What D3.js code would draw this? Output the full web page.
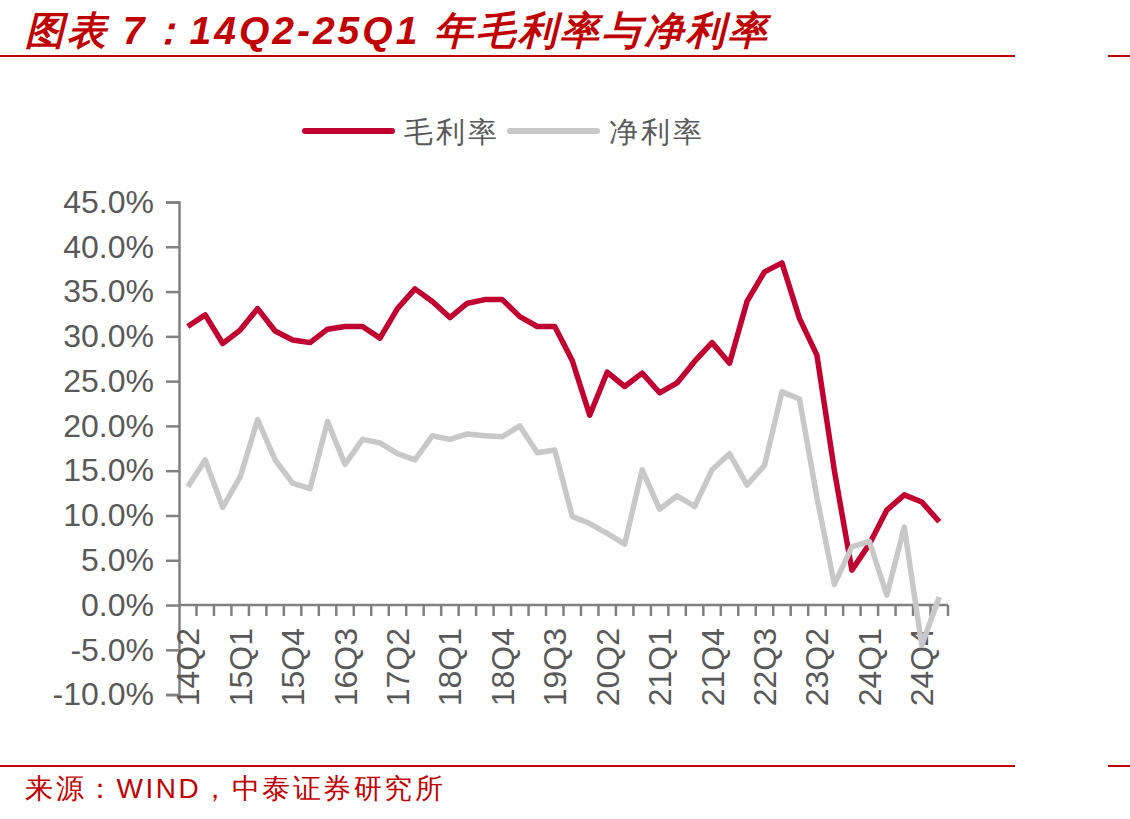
<!DOCTYPE html>
<html>
<head>
<meta charset="utf-8">
<script src="https://cdn.jsdelivr.net/npm/d3@7"></script>
<style>
  body { margin: 0; background: #fff; }
  svg { display: block; }
  text { font-family: "Liberation Sans", Arial, sans-serif; }
</style>
</head>
<body>
<svg id="chart"></svg>
<script>
const width = 1130;
const height = 819;

const quarters = [
  "14Q2","14Q3","14Q4","15Q1","15Q2","15Q3","15Q4","16Q1","16Q2","16Q3","16Q4",
  "17Q1","17Q2","17Q3","17Q4","18Q1","18Q2","18Q3","18Q4","19Q1","19Q2","19Q3",
  "19Q4","20Q1","20Q2","20Q3","20Q4","21Q1","21Q2","21Q3","21Q4","22Q1","22Q2",
  "22Q3","22Q4","23Q1","23Q2","23Q3","23Q4","24Q1","24Q2","24Q3","24Q4","25Q1"
];
const tickLabels = ["14Q2","15Q1","15Q4","16Q3","17Q2","18Q1","18Q4","19Q3",
  "20Q2","21Q1","21Q4","22Q3","23Q2","24Q1","24Q4"];
const yTicks = [-10, -5, 0, 5, 10, 15, 20, 25, 30, 35, 40, 45];

// 毛利率 (%)
const grossMargin = [
  31.1, 32.4, 29.2, 30.7, 33.1, 30.6, 29.6, 29.3, 30.8, 31.1, 31.1,
  29.8, 33.1, 35.3, 33.9, 32.1, 33.7, 34.1, 34.1, 32.2, 31.1, 31.1,
  27.3, 21.2, 26.0, 24.4, 25.9, 23.7, 24.8, 27.2, 29.3, 27.0, 33.9,
  37.2, 38.2, 32.0, 27.9, 15.0, 3.9, 6.8, 10.6, 12.3, 11.5, 9.3
];
// 净利率 (%)
const netMargin = [
  13.2, 16.2, 10.9, 14.3, 20.7, 16.2, 13.6, 13.0, 20.5, 15.7, 18.5,
  18.1, 16.9, 16.2, 18.9, 18.5, 19.1, 18.9, 18.8, 20.0, 17.0, 17.3,
  9.9, 9.1, 8.0, 6.8, 15.1, 10.7, 12.2, 11.0, 15.1, 16.9, 13.4,
  15.6, 23.8, 23.0, 12.0, 2.3, 6.5, 7.1, 1.1, 8.7, -4.5, 0.9
];

const red = "#C00031";
const grey = "#C8C8C8";
const axisColor = "#808080";
const textColor = "#595959";
const titleRed = "#C00000";

const svg = d3.select("#chart")
  .attr("width", width)
  .attr("height", height);

// title and rules
svg.append("text")
  .attr("x", 25).attr("y", 44)
  .attr("fill", titleRed)
  .attr("font-size", 39)
  .attr("font-weight", "bold")
  .attr("font-style", "italic")
  .attr("letter-spacing", 3)
  .attr("font-family", "'Noto Sans CJK SC', 'Liberation Sans', sans-serif")
  .text("图表 7：14Q2-25Q1 年毛利率与净利率");

[56, 766].forEach(y => {
  svg.append("line").attr("x1", 0).attr("x2", 1015).attr("y1", y).attr("y2", y)
    .attr("stroke", titleRed).attr("stroke-width", 2);
  svg.append("line").attr("x1", 1108).attr("x2", 1130).attr("y1", y).attr("y2", y)
    .attr("stroke", titleRed).attr("stroke-width", 2);
});

svg.append("text")
  .attr("x", 25).attr("y", 798)
  .attr("fill", titleRed)
  .attr("font-size", 28)
  .attr("letter-spacing", 2.5)
  .attr("font-family", "'Noto Sans CJK SC', sans-serif")
  .text("来源：WIND，中泰证券研究所");

// scales
const x = d3.scaleBand().domain(quarters).range([179, 948]).padding(0);
const y = d3.scaleLinear().domain([-10, 45]).range([694.6, 202]);

// y axis
const yAxis = svg.append("g")
  .attr("transform", "translate(179,0)")
  .call(d3.axisLeft(y).tickValues(yTicks).tickSize(13).tickPadding(12)
    .tickFormat(d => d.toFixed(1) + "%"));
yAxis.select(".domain").attr("stroke", axisColor).attr("stroke-width", 2.5);
yAxis.selectAll(".tick line").attr("stroke", axisColor).attr("stroke-width", 2.5);
yAxis.selectAll(".tick text")
  .attr("fill", textColor)
  .attr("font-size", 32)
  .attr("font-family", "'Liberation Sans', Arial, sans-serif");

// x axis at 0%
const xAxis = svg.append("g").attr("transform", `translate(0,${y(0)})`);
xAxis.append("line")
  .attr("x1", 179).attr("x2", 948)
  .attr("stroke", axisColor).attr("stroke-width", 2.5);
xAxis.selectAll("line.tk")
  .data(quarters)
  .enter().append("line")
  .attr("class", "tk")
  .attr("x1", d => x(d) + x.bandwidth())
  .attr("x2", d => x(d) + x.bandwidth())
  .attr("y1", 0).attr("y2", 11)
  .attr("stroke", axisColor).attr("stroke-width", 2.5);
xAxis.selectAll("text")
  .data(tickLabels)
  .enter().append("text")
  .attr("transform", d => `translate(${x(d) + x.bandwidth() / 2},23) rotate(-90)`)
  .attr("text-anchor", "end")
  .attr("dy", "0.36em")
  .attr("fill", textColor)
  .attr("font-size", 32)
  .text(d => d);

// lines
const line = vals => d3.line()
  .x((d, i) => x(quarters[i]) + x.bandwidth() / 2)
  .y(d => y(d))(vals);

svg.append("path")
  .attr("d", line(grossMargin))
  .attr("fill", "none")
  .attr("stroke", red)
  .attr("stroke-width", 5.5)
  .attr("stroke-linejoin", "round");

svg.append("path")
  .attr("d", line(netMargin))
  .attr("fill", "none")
  .attr("stroke", grey)
  .attr("stroke-width", 5.5)
  .attr("stroke-linejoin", "round");

// legend
const legend = [
  { name: "毛利率", color: red, x: 305 },
  { name: "净利率", color: grey, x: 510 }
];
const lg = svg.append("g");
legend.forEach(l => {
  lg.append("line")
    .attr("x1", l.x).attr("x2", l.x + 87)
    .attr("y1", 131).attr("y2", 131)
    .attr("stroke", l.color).attr("stroke-width", 6)
    .attr("stroke-linecap", "round");
  lg.append("text")
    .attr("x", l.x + 99).attr("y", 142)
    .attr("fill", textColor)
    .attr("font-size", 29)
    .attr("letter-spacing", 3)
    .attr("font-family", "'Noto Sans CJK SC', sans-serif")
    .attr("font-weight", 300)
    .text(l.name);
});
</script>
</body>
</html>
